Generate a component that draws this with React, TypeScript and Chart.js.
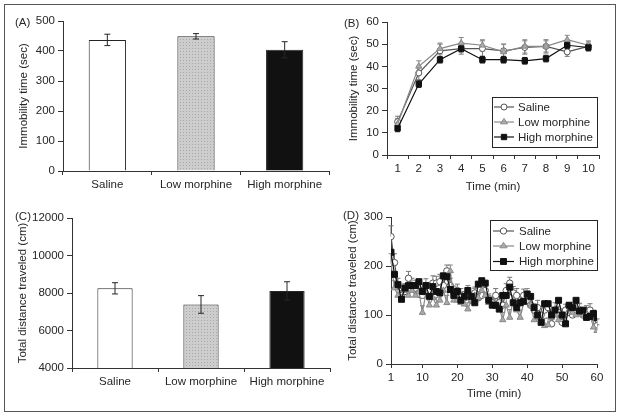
import React, { useEffect, useRef } from 'react';
import { Chart, registerables } from 'chart.js';

Chart.register(...registerables);

const FONT = '"Liberation Sans", Arial, Helvetica, sans-serif';
const FS = 11.5;
const INK = '#262626';
const AXIS = '#333';

// ---------- data ----------
const groups = ['Saline', 'Low morphine', 'High morphine'];
const seriesNames = ['Saline', 'Low morphine', 'High morphine'];

// (A) total immobility time (sec)
const immobilityTotal = [437, 449, 404];
const immobilityTotalErr = [19, 9, 27];

// (B) immobility time per minute (sec)
const minutesB = ['1', '2', '3', '4', '5', '6', '7', '8', '9', '10'];
const salineB = [15, 37, 47, 48, 48, 47, 48.5, 49, 46.5, 49];
const lowB = [14, 40, 48, 50.5, 49.5, 46.5, 49, 49, 52, 49.5];
const highB = [12, 32, 43, 48, 43, 43, 42.5, 43.5, 49.5, 48.5];
const salineBErr = [2.5, 3, 3, 2.5, 3.5, 3, 3, 3, 2, 2];
const lowBErr = [2.5, 2.5, 2.5, 2.5, 2.5, 3.5, 3, 2.5, 2, 2];
const highBErr = [1.5, 1.5, 1.5, 1.5, 1.5, 1.5, 1.5, 1.5, 1.5, 1.5];

// (C) total distance traveled (cm)
const distanceTotal = [8250, 7390, 8110];
const distanceTotalErr = [300, 470, 490];

// (D) distance traveled per minute (cm), minutes 1..60
const salineD = [
  260, 207, 160, 140, 148, 175, 160, 155, 142, 140,
  160, 150, 165, 165, 168, 160, 190, 160, 145, 150,
  140, 135, 145, 130, 145, 135, 140, 150, 130, 125,
  140, 125, 120, 150, 165, 145, 140, 125, 140, 130,
  120, 110, 115, 100, 110, 115, 82, 110, 105, 85,
  110, 105, 100, 110, 110, 100, 105, 110, 95, 78,
];
const lowD = [
  205, 155, 140, 135, 150, 140, 150, 140, 147, 105,
  145, 120, 135, 120, 130, 150, 125, 190, 130, 130,
  125, 122, 112, 130, 140, 135, 150, 140, 125, 120,
  120, 115, 90, 120, 95, 130, 110, 95, 125, 140,
  120, 90, 95, 85, 78, 80, 95, 100, 90, 100,
  88, 110, 105, 100, 110, 100, 95, 100, 75, 68,
];
const highD = [
  228, 183, 162, 132, 155, 160, 160, 160, 168, 148,
  160, 138, 158, 148, 145, 180, 178, 152, 140, 148,
  130, 138, 150, 138, 125, 163, 170, 165, 130, 120,
  120, 112, 140, 140, 157, 125, 115, 125, 128, 143,
  138, 115, 100, 85, 123, 123, 100, 110, 130, 100,
  82, 120, 115, 130, 108, 110, 95, 97, 103, 95,
];
const salineDErr = [
  22, 18, 15, 14, 16, 14, 15, 16, 13, 15,
  14, 16, 15, 14, 15, 13, 12, 15, 14, 13,
  14, 13, 15, 14, 12, 13, 12, 14, 13, 12,
  14, 15, 13, 14, 12, 13, 14, 15, 13, 12,
  14, 13, 15, 14, 12, 13, 14, 15, 13, 14,
  12, 13, 15, 14, 13, 12, 14, 13, 15, 14,
];
const lowDErr = [
  20, 15, 14, 15, 13, 16, 14, 13, 15, 14,
  13, 15, 14, 16, 13, 14, 15, 12, 14, 13,
  15, 14, 13, 15, 14, 13, 12, 14, 15, 13,
  14, 13, 15, 14, 16, 13, 14, 15, 13, 14,
  13, 15, 14, 13, 15, 14, 13, 15, 14, 13,
  15, 14, 13, 15, 14, 13, 14, 15, 13, 12,
];
const minutesD = salineD.map((_, i) => i + 1);
const xTicksD = [1, 10, 20, 30, 40, 50, 60];

// ---------- helpers ----------
const font = { family: FONT, size: FS, weight: 'normal' };

function drawMarker(ctx: CanvasRenderingContext2D, style: string, x: number, y: number, r: number, fill: string, stroke: string) {
  ctx.save();
  ctx.fillStyle = fill;
  ctx.strokeStyle = stroke;
  ctx.lineWidth = 1;
  ctx.beginPath();
  if (style === 'circle') {
    ctx.arc(x, y, r, 0, Math.PI * 2);
  } else if (style === 'triangle') {
    ctx.moveTo(x, y - r);
    ctx.lineTo(x + r, y + r * 0.5);
    ctx.lineTo(x - r, y + r * 0.5);
    ctx.closePath();
  } else {
    const s = r / Math.SQRT2;
    ctx.rect(x - s, y - s, 2 * s, 2 * s);
  }
  ctx.fill();
  ctx.stroke();
  ctx.restore();
}

function drawErrors(chart: any) {
  const ctx = chart.ctx;
  const yScale = chart.scales.y;
  chart.data.datasets.forEach((ds: any, di: number) => {
    if (!ds.errors) return;
    const meta = chart.getDatasetMeta(di);
    meta.data.forEach((el: any, i: number) => {
      const raw = ds.data[i];
      const v = typeof raw === 'number' ? raw : raw.y;
      const e = ds.errors[i];
      const top = yScale.getPixelForValue(v + e);
      const bot = ds.errUp ? el.y : yScale.getPixelForValue(v - e);
      const cap = ds.errCap || 3;
      ctx.save();
      ctx.strokeStyle = ds.errColor || INK;
      ctx.lineWidth = 1;
      ctx.beginPath();
      ctx.moveTo(el.x, top);
      ctx.lineTo(el.x, bot);
      ctx.moveTo(el.x - cap, top);
      ctx.lineTo(el.x + cap, top);
      if (!ds.errUp) {
        ctx.moveTo(el.x - cap, bot);
        ctx.lineTo(el.x + cap, bot);
      }
      ctx.stroke();
      ctx.restore();
    });
  });
}

const errorsOnTop = { id: 'errorsOnTop', afterDatasetsDraw(chart: any) { drawErrors(chart); } };
const errorsBehind = { id: 'errorsBehind', beforeDatasetsDraw(chart: any) { drawErrors(chart); } };

function makeLegend(box: { x: number; y: number; w: number; h: number; rows: number[]; lx0: number; lx1: number; tx: number }) {
  return {
    id: 'boxLegend',
    afterDraw(chart: any) {
      const ctx = chart.ctx;
      ctx.save();
      ctx.fillStyle = '#fff';
      ctx.fillRect(box.x, box.y, box.w, box.h);
      ctx.strokeStyle = INK;
      ctx.lineWidth = 1;
      ctx.strokeRect(box.x + 0.5, box.y + 0.5, box.w, box.h);
      chart.data.datasets.forEach((ds: any, i: number) => {
        const y = box.rows[i];
        ctx.strokeStyle = ds.borderColor;
        ctx.lineWidth = 1.2;
        ctx.beginPath();
        ctx.moveTo(box.lx0, y);
        ctx.lineTo(box.lx1, y);
        ctx.stroke();
        drawMarker(ctx, ds.pointStyle, (box.lx0 + box.lx1) / 2, y, ds.pointRadius, ds.pointBackgroundColor, ds.pointBorderColor);
        ctx.fillStyle = INK;
        ctx.font = `normal ${FS}px ${FONT}`;
        ctx.textBaseline = 'middle';
        ctx.textAlign = 'left';
        ctx.fillText(ds.label, box.tx, y + 0.5);
      });
      ctx.restore();
    },
  };
}

function yAxis(min: number, max: number, step: number, title: string, width: number, titlePad: number) {
  return {
    min,
    max,
    ticks: { stepSize: step, color: INK, font, padding: 3, callback: (v: any) => String(v) },
    grid: { drawOnChartArea: false, drawTicks: true, tickLength: 5, color: AXIS },
    border: { color: AXIS, width: 1 },
    title: { display: true, text: title, color: INK, font, padding: { top: titlePad, bottom: 0 } },
    afterFit: (s: any) => { s.width = width; },
  };
}

function catAxis(height: number, title?: string, titlePad = 0) {
  return {
    type: 'category',
    offset: true,
    grid: { offset: true, drawOnChartArea: false, drawTicks: true, tickLength: 4, color: AXIS },
    border: { color: AXIS, width: 1 },
    ticks: { color: INK, font, padding: 3, maxRotation: 0, autoSkip: false },
    title: title
      ? { display: true, text: title, color: INK, font, padding: { top: 0, bottom: titlePad } }
      : { display: false },
    afterFit: (s: any) => { s.height = height; },
  };
}

function dottedGray(ctx: CanvasRenderingContext2D) {
  const c = document.createElement('canvas');
  c.width = 3;
  c.height = 3;
  const p = c.getContext('2d')!;
  p.fillStyle = '#cdcdcd';
  p.fillRect(0, 0, 3, 3);
  p.fillStyle = '#a8a8a8';
  p.fillRect(0, 0, 1, 1);
  return ctx.createPattern(c, 'repeat') || '#c4c4c4';
}

const lineStyles = [
  { borderColor: '#555', pointStyle: 'circle', pointBackgroundColor: '#fff', pointBorderColor: '#555', errColor: '#777', order: 2 },
  { borderColor: '#888', pointStyle: 'triangle', pointBackgroundColor: '#aaa', pointBorderColor: '#888', errColor: '#888', order: 1 },
  { borderColor: '#111', pointStyle: 'rect', pointBackgroundColor: '#111', pointBorderColor: '#111', errColor: '#111', order: 0 },
];

// ---------- chart configs ----------
function configA(canvas: HTMLCanvasElement): any {
  const ctx = canvas.getContext('2d')!;
  return {
    type: 'bar',
    data: {
      labels: groups,
      datasets: [{
        data: immobilityTotal,
        errors: immobilityTotalErr,
        backgroundColor: ['#ffffff', dottedGray(ctx), '#111111'],
        borderColor: INK,
        borderWidth: 1,
        barPercentage: 0.42,
        categoryPercentage: 1,
      }],
    },
    options: {
      animation: false,
      responsive: false,
      devicePixelRatio: 1,
      layout: { padding: { left: 10, top: 21, right: 11, bottom: 0 } },
      plugins: { legend: { display: false }, tooltip: { enabled: false } },
      scales: {
        x: catAxis(29),
        y: yAxis(0, 500, 100, 'Immobility time (sec)', 53, 7),
      },
    },
    plugins: [errorsOnTop],
  };
}

function lineDatasets(values: number[][], errs: (number[] | null)[], radius: number[], upOnly: boolean, useXY: number[] | null) {
  return values.map((vals, i) => ({
    label: seriesNames[i],
    data: useXY ? vals.map((v, k) => ({ x: useXY[k], y: v })) : vals,
    errors: errs[i] || undefined,
    errUp: upOnly,
    errCap: 2.5,
    borderWidth: 1.2,
    tension: 0,
    pointRadius: radius[i],
    pointBorderWidth: 1,
    ...lineStyles[i],
  }));
}

function configB(): any {
  return {
    type: 'line',
    data: {
      labels: minutesB,
      datasets: lineDatasets([salineB, lowB, highB], [salineBErr, lowBErr, highBErr], [3, 3.6, 3.8], false, null),
    },
    options: {
      animation: false,
      responsive: false,
      devicePixelRatio: 1,
      layout: { padding: { left: 30, top: 22, right: 11, bottom: 0 } },
      plugins: { legend: { display: false }, tooltip: { enabled: false } },
      scales: {
        x: catAxis(45, 'Time (min)', 6),
        y: yAxis(0, 60, 10, 'Immobility time (sec)', 47, 7),
      },
    },
    plugins: [errorsBehind, makeLegend({ x: 182, y: 97, w: 105, h: 50, rows: [107, 122, 137], lx0: 184, lx1: 204, tx: 208 })],
  };
}

function configC(canvas: HTMLCanvasElement): any {
  const ctx = canvas.getContext('2d')!;
  return {
    type: 'bar',
    data: {
      labels: groups,
      datasets: [{
        data: distanceTotal,
        errors: distanceTotalErr,
        backgroundColor: ['#ffffff', dottedGray(ctx), '#111111'],
        borderColor: INK,
        borderWidth: 1,
        barPercentage: 0.41,
        categoryPercentage: 1,
      }],
    },
    options: {
      animation: false,
      responsive: false,
      devicePixelRatio: 1,
      layout: { padding: { left: 10, top: 18, right: 10, bottom: 0 } },
      plugins: { legend: { display: false }, tooltip: { enabled: false } },
      scales: {
        x: catAxis(42),
        y: yAxis(4000, 12000, 2000, 'Total distance traveled (cm)', 62, 6),
      },
    },
    plugins: [errorsOnTop],
  };
}

function configD(): any {
  return {
    type: 'line',
    data: {
      datasets: lineDatasets([salineD, lowD, highD], [salineDErr, lowDErr, null], [3.2, 3.6, 4.2], true, minutesD),
    },
    options: {
      animation: false,
      responsive: false,
      devicePixelRatio: 1,
      layout: { padding: { left: 30, top: 17, right: 13, bottom: 0 } },
      plugins: { legend: { display: false }, tooltip: { enabled: false } },
      scales: {
        x: {
          type: 'linear',
          min: 1,
          max: 60,
          grid: { drawOnChartArea: false, drawTicks: true, tickLength: 4, color: AXIS },
          border: { color: AXIS, width: 1 },
          ticks: { color: INK, font, padding: 3, maxRotation: 0, autoSkip: false, callback: (v: any) => String(v) },
          afterBuildTicks: (s: any) => { s.ticks = xTicksD.map((v) => ({ value: v })); },
          title: { display: true, text: 'Time (min)', color: INK, font, padding: { top: 0, bottom: 9 } },
          afterFit: (s: any) => { s.height = 46; },
        },
        y: yAxis(0, 300, 100, 'Total distance traveled (cm)', 51, 6),
      },
    },
    plugins: [errorsBehind, makeLegend({ x: 180, y: 20, w: 107, h: 50, rows: [31, 46, 61.5], lx0: 183, lx1: 204, tx: 209 })],
  };
}

// ---------- components ----------
function Panel({ left, top, width, height, make }: { left: number; top: number; width: number; height: number; make: (c: HTMLCanvasElement) => any }) {
  const ref = useRef<HTMLCanvasElement>(null);
  useEffect(() => {
    const canvas = ref.current!;
    const chart = new Chart(canvas, make(canvas));
    return () => chart.destroy();
  }, []);
  return (
    <div style={{ position: 'absolute', left, top, width, height }}>
      <canvas ref={ref} width={width} height={height} style={{ width, height, display: 'block' }} />
    </div>
  );
}

const letterStyle: React.CSSProperties = {
  position: 'absolute',
  fontFamily: FONT,
  fontSize: FS,
  color: INK,
  lineHeight: '14px',
  whiteSpace: 'nowrap',
};

export default function App() {
  return (
    <div style={{ position: 'fixed', left: 0, top: 0, width: 621, height: 418, background: '#fff', overflow: 'hidden' }}>
      <div style={{ position: 'absolute', left: 4, top: 4, width: 612, height: 408, border: '1px solid #555', boxSizing: 'border-box' }} />
      <Panel left={0} top={0} width={340} height={200} make={configA} />
      <Panel left={310} top={0} width={300} height={200} make={configB} />
      <Panel left={0} top={200} width={340} height={210} make={configC} />
      <Panel left={310} top={200} width={300} height={210} make={configD} />
      <div style={{ ...letterStyle, left: 15, top: 15 }}>(A)</div>
      <div style={{ ...letterStyle, left: 344, top: 16 }}>(B)</div>
      <div style={{ ...letterStyle, left: 15, top: 209 }}>(C)</div>
      <div style={{ ...letterStyle, left: 343, top: 208 }}>(D)</div>
    </div>
  );
}
